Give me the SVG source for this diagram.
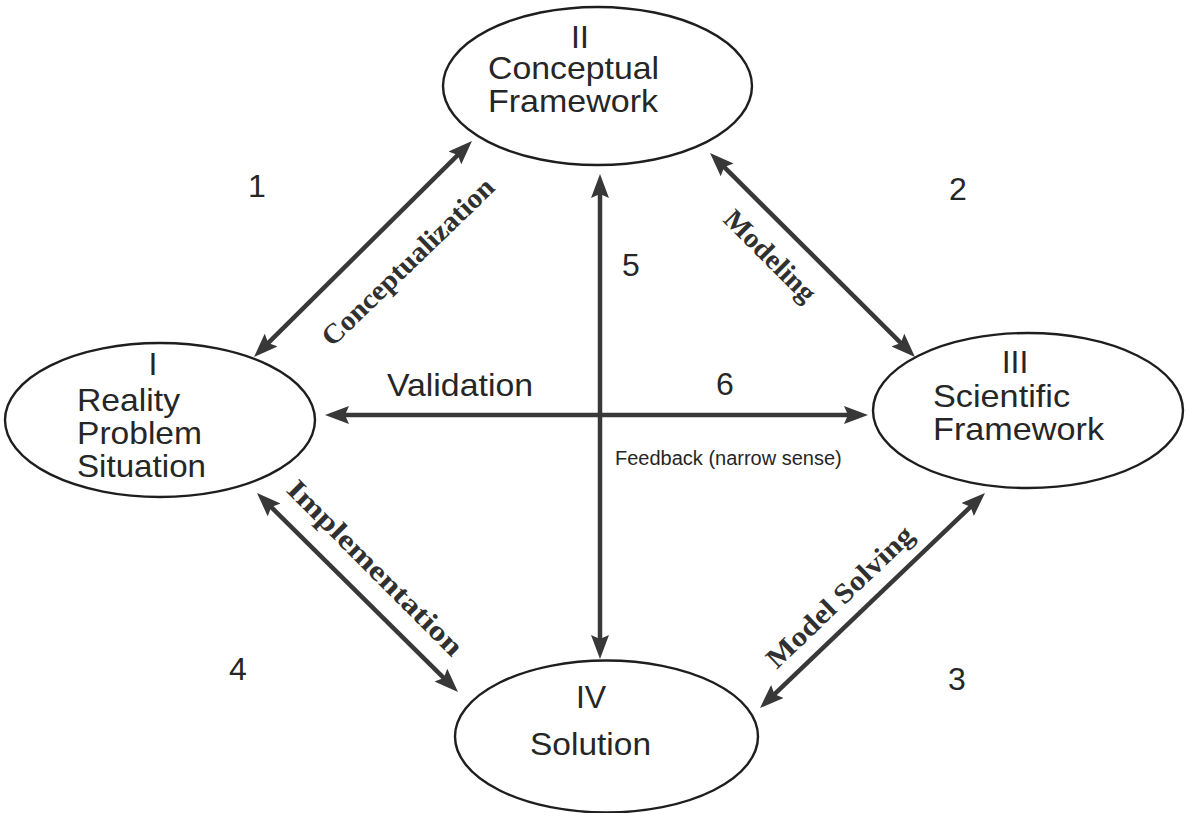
<svg xmlns="http://www.w3.org/2000/svg" width="1186" height="813" viewBox="0 0 1186 813">
  <style>
    .node ellipse { fill: none; stroke: #1e1e1e; stroke-width: 2.4; }
    .lbl { font-family: "Liberation Sans", Arial, sans-serif; font-size: 32px; fill: #262626; }
    .num { font-family: "Liberation Sans", Arial, sans-serif; font-size: 32px; fill: #262626; text-anchor: middle; }
    .small { font-family: "Liberation Sans", Arial, sans-serif; font-size: 20px; fill: #262626; }
    .edge { font-family: "Liberation Serif", "Times New Roman", serif; font-weight: bold; font-size: 28px; fill: #303030; text-anchor: middle; }
    .conn { stroke: #383838; stroke-width: 4.5; fill: none; marker-start: url(#head); marker-end: url(#head); }
  </style>
  <defs>
    <marker id="head" viewBox="0 0 24 18" markerWidth="24" markerHeight="18" markerUnits="userSpaceOnUse" refX="6" refY="9" orient="auto-start-reverse">
      <path d="M0,0 L24,9 L0,18 L4,9 Z" fill="#383838"/>
    </marker>
  </defs>
  <rect width="1186" height="813" fill="#ffffff"/>

  <!-- nodes -->
  <g id="node-reality" class="node">
    <ellipse cx="160" cy="420" rx="155" ry="77"/>
    <text class="lbl" x="153" y="375" text-anchor="middle">I</text>
    <text class="lbl" x="77" y="411" textLength="103" lengthAdjust="spacingAndGlyphs">Reality</text>
    <text class="lbl" x="77" y="444" textLength="125" lengthAdjust="spacingAndGlyphs">Problem</text>
    <text class="lbl" x="77" y="477" textLength="129" lengthAdjust="spacingAndGlyphs">Situation</text>
  </g>
  <g id="node-conceptual" class="node">
    <ellipse cx="597.5" cy="86" rx="154.5" ry="79"/>
    <text class="lbl" x="580" y="48" text-anchor="middle">II</text>
    <text class="lbl" x="488" y="79" textLength="171" lengthAdjust="spacingAndGlyphs">Conceptual</text>
    <text class="lbl" x="488" y="112" textLength="170" lengthAdjust="spacingAndGlyphs">Framework</text>
  </g>
  <g id="node-scientific" class="node">
    <ellipse cx="1028" cy="410.5" rx="155" ry="77.5"/>
    <text class="lbl" x="1015" y="373" text-anchor="middle">III</text>
    <text class="lbl" x="933" y="407" textLength="137" lengthAdjust="spacingAndGlyphs">Scientific</text>
    <text class="lbl" x="933" y="440" textLength="171" lengthAdjust="spacingAndGlyphs">Framework</text>
  </g>
  <g id="node-solution" class="node">
    <ellipse cx="606.5" cy="736.5" rx="151.5" ry="76"/>
    <text class="lbl" x="591" y="708" text-anchor="middle">IV</text>
    <text class="lbl" x="530" y="755" textLength="121" lengthAdjust="spacingAndGlyphs">Solution</text>
  </g>

  <!-- connectors -->
  <g id="connectors">
    <line class="conn" x1="459.2" y1="153.7" x2="266.8" y2="344.3"/>
    <line class="conn" x1="722.8" y1="165.7" x2="902.2" y2="344.3"/>
    <line class="conn" x1="269.8" y1="505.7" x2="445.2" y2="679.3"/>
    <line class="conn" x1="972.0" y1="505.4" x2="773.0" y2="695.6"/>
    <line class="conn" x1="600" y1="192" x2="600" y2="641"/>
    <line class="conn" x1="343" y1="415" x2="850" y2="415"/>

    <!-- connector labels -->
    <g transform="translate(408,262) rotate(-44)">
      <text class="edge" x="0" y="9" textLength="228" lengthAdjust="spacingAndGlyphs">Conceptualization</text>
    </g>
    <g transform="translate(770,256) rotate(45)">
      <text class="edge" x="0" y="9" textLength="118" lengthAdjust="spacingAndGlyphs">Modeling</text>
    </g>
    <g transform="translate(375,568) rotate(45)">
      <text class="edge" x="0" y="9" textLength="236" lengthAdjust="spacingAndGlyphs">Implementation</text>
    </g>
    <g transform="translate(840,597) rotate(-43.7)">
      <text class="edge" x="0" y="9" textLength="192" lengthAdjust="spacingAndGlyphs">Model Solving</text>
    </g>
    <text class="lbl" x="387" y="396" textLength="146" lengthAdjust="spacingAndGlyphs">Validation</text>
    <text class="small" x="615" y="465">Feedback (narrow sense)</text>
  </g>

  <!-- quadrant numbers -->
  <g id="numbers">
    <text class="num" x="257" y="197">1</text>
    <text class="num" x="958" y="200">2</text>
    <text class="num" x="957" y="690">3</text>
    <text class="num" x="238" y="680">4</text>
    <text class="num" x="631" y="276">5</text>
    <text class="num" x="725" y="395">6</text>
  </g>
</svg>
